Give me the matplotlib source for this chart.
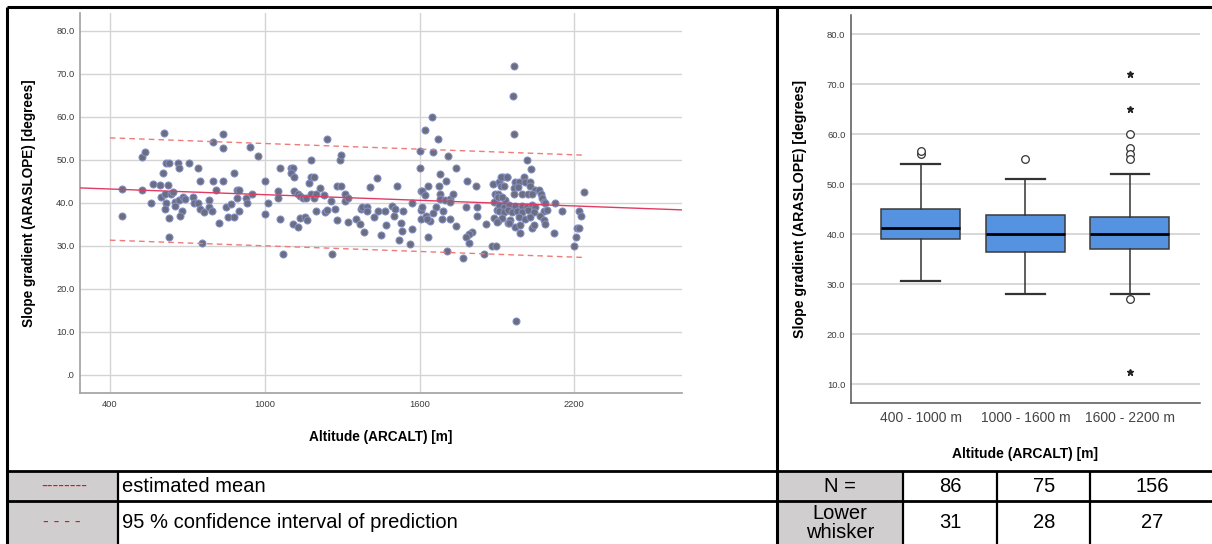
import matplotlib
matplotlib.use('Agg')
import matplotlib.pyplot as plt
from matplotlib import font_manager as fm
from matplotlib.lines import Line2D
from matplotlib.patches import Rectangle
import numpy as np

plt.rcParams['font.family'] = ['Liberation Sans', 'DejaVu Sans']


def have_font(name):
    try:
        fm.findfont(fm.FontProperties(family=name), fallback_to_default=False)
        return True
    except ValueError:
        return False


TABLE_FONT = 'Liberation Sans Narrow' if have_font('Liberation Sans Narrow') else 'Liberation Sans'

# scatter data: altitude [m] and slope [deg]
alt_m = [
    448, 448, 523, 536, 523, 560, 565, 595, 609, 604, 616, 629, 625, 599, 612, 635, 645, 616, 612, 630,
    630, 651, 651, 668, 682, 691, 678, 672, 664, 668, 705, 740, 721, 727, 740, 749, 749, 766, 785, 785,
    797, 801, 840, 840, 801, 840, 810, 824, 850, 869, 859, 881, 881, 891, 902, 891, 902, 926, 930, 952,
    943, 973, 756,
    1000, 1000, 1012, 1061, 1050, 1050, 1061, 1071, 1101, 1110, 1101, 1115, 1115, 1129, 1138, 1149, 1160, 1110,
    1129, 1136, 1155, 1164, 1171, 1180, 1180, 1190, 1181, 1190, 1200, 1215, 1200, 1229, 1241, 1233, 1242, 1256,
    1260, 1274, 1280, 1280, 1296, 1291, 1296, 1310, 1310, 1323, 1322, 1352, 1369, 1372, 1377, 1397, 1397, 1386,
    1406, 1424, 1436, 1440, 1450, 1465, 1468, 1495, 1504, 1512, 1501, 1534, 1527, 1532, 1521, 1561, 1570, 1570,
    1600, 1600, 1605, 1605, 1605, 1650, 1622, 1671, 1652, 1709, 1741, 1680, 1631, 1610, 1622, 1675, 1702, 1680,
    1680, 1699, 1719, 1728, 1716, 1783, 1820, 1609, 1663, 1691, 1652, 1626, 1641, 1629, 1687, 1716, 1781, 1821,
    1821, 1743, 1631, 1802, 1790, 1781, 1793, 1706, 1768, 1851, 1882, 1856, 1883, 1909, 1922, 1938, 1914, 1929,
    1891, 1900, 1932, 1890, 1900, 1926, 1945, 1887, 1904, 1943, 1965, 1962, 1967, 1972, 2017, 2032, 2238, 1917,
    1939, 1971, 1984, 2003, 2010, 2029, 1967, 1980, 2029, 2049, 2064, 1904, 1904, 1919, 1964, 1996, 2022, 2037,
    2070, 2074, 2081, 2085, 2124, 1906, 1926, 1945, 1971, 1997, 2016, 2035, 2049, 1906, 1926, 1941, 1958, 1978,
    1997, 2022, 2045, 2081, 2094, 2151, 2217, 2226, 1919, 1952, 1984, 2010, 2029, 2068, 2081, 1900, 1945, 1971,
    1990, 2035, 2045, 2087, 1990, 2120, 2210, 2216, 2208, 2199, 1896,
]
slope_deg = [
    43.2, 36.9, 50.7, 51.7, 42.9, 40.0, 44.3, 44.1, 56.3, 46.9, 49.1, 49.1, 44.2, 41.2, 42.0, 42.0, 42.4, 40.0, 38.6, 36.3,
    32.1, 40.2, 39.3, 40.6, 41.2, 40.8, 38.1, 36.9, 49.1, 48.0, 49.3, 48.1, 41.2, 40.0, 40.0, 45.0, 38.5, 37.7, 40.6, 38.9,
    38.1, 54.0, 55.9, 52.8, 45.0, 45.0, 42.9, 35.3, 38.9, 39.7, 36.6, 36.6, 46.9, 42.9, 42.9, 41.0, 38.0, 41.0, 40.0, 42.0,
    53.0, 50.9, 30.7,
    45.0, 37.3, 40.0, 48.0, 42.7, 41.0, 36.1, 28.0, 48.0, 48.0, 46.9, 45.9, 42.7, 42.1, 41.5, 41.0, 41.0, 34.9,
    34.4, 36.3, 36.6, 35.9, 44.5, 49.9, 46.0, 46.0, 42.0, 41.0, 42.0, 43.3, 38.0, 41.7, 54.9, 37.7, 38.3, 40.3,
    28.0, 38.4, 35.9, 43.9, 43.9, 49.9, 51.0, 42.0, 40.4, 41.0, 35.5, 36.2, 34.9, 38.4, 39.0, 39.0, 38.0, 33.1,
    43.6, 36.7, 45.7, 38.0, 32.4, 38.0, 34.8, 39.3, 38.4, 43.9, 36.9, 38.0, 35.2, 33.4, 31.2, 30.3, 33.8, 40.0,
    52.0, 48.0, 42.7, 38.3, 36.2, 60.0, 56.9, 54.9, 51.8, 50.9, 48.0, 46.6, 43.9, 42.7, 41.7, 43.9, 45.0, 41.9,
    40.8, 40.6, 40.8, 41.9, 40.2, 45.1, 43.9, 38.9, 38.9, 38.0, 37.5, 36.9, 35.8, 36.2, 36.2, 36.2, 39.0, 39.0,
    36.9, 34.6, 32.1, 33.2, 32.7, 32.1, 30.5, 28.7, 27.2, 28.1, 30.0, 35.0, 44.3, 44.8, 45.9, 45.9, 43.9, 43.9,
    42.1, 41.0, 40.6, 40.2, 38.3, 38.3, 38.3, 36.3, 35.8, 35.3, 71.8, 64.8, 55.9, 12.4, 49.9, 47.9, 42.5, 46.0,
    46.0, 44.8, 44.8, 46.0, 44.8, 44.8, 43.3, 43.7, 43.9, 42.9, 42.9, 42.1, 41.4, 41.4, 42.1, 42.0, 42.0, 42.0,
    42.0, 41.0, 40.2, 39.8, 40.0, 39.4, 39.0, 39.5, 39.1, 39.3, 38.9, 39.4, 39.0, 38.1, 37.8, 38.2, 37.9, 38.1,
    37.8, 38.2, 37.9, 38.0, 38.2, 38.0, 38.0, 36.9, 36.3, 35.9, 36.7, 36.2, 36.7, 36.9, 35.9, 35.5, 35.2, 34.4,
    34.8, 34.0, 34.8, 34.9, 33.0, 33.0, 34.0, 34.0, 32.0, 30.0, 29.9,
]

# regression line and 95 % prediction band
fit_intercept = 44.03
fit_slope = -0.00219
pi_half_width = 11.9
pi_alt_range = [400, 2230]

# box plot summary
groups = ['400 - 1000 m', '1000 - 1600 m', '1600 - 2200 m']
q1 = [39.1, 36.5, 37.1]
medians = [41.3, 40.0, 40.0]
q3 = [45.0, 43.8, 43.5]
whis_lo = [30.7, 28.0, 28.1]
whis_hi = [54.1, 51.0, 52.1]
outliers = [[56.0, 56.6], [55.0], [60.0, 57.2, 56.1, 55.0, 27.1]]
extremes = [[], [], [72.1, 65.1, 12.5]]

# table below the charts
n_counts = [86, 75, 156]
lower_whisker = [31, 28, 27]

TICK_COLOR = '#3c3c3c'
GRID_COLOR = '#d4d4d4'
LINE_RED = '#e23b63'
BAND_RED = '#f07a7a'
BOX_BLUE = '#5592e0'

fig = plt.figure(figsize=(12.12, 5.44), dpi=100)

# ---- scatter with fit ----
ax1 = fig.add_axes([80 / 1212, 1 - 393 / 544, 602 / 1212, 380 / 544])
ax1.scatter(alt_m, slope_deg, s=26, c='#6b6e80', edgecolors='#8591c8', linewidths=0.7, zorder=3)
xl = np.array([284.0, 2617.0])
ax1.plot(xl, fit_intercept + fit_slope * xl, color=LINE_RED, lw=1.0, zorder=4)
xb = np.array(pi_alt_range, dtype=float)
for sgn in (1, -1):
    ax1.plot(xb, fit_intercept + fit_slope * xb + sgn * pi_half_width,
             color=BAND_RED, lw=1.0, dashes=(4, 3), zorder=4)
ax1.set_xlim(xl)
ax1.set_ylim(-4.3, 84.1)
ax1.set_xticks([400, 1000, 1600, 2200])
ax1.set_yticks(np.arange(0, 81, 10))
ax1.set_yticklabels(['.0'] + ['%.1f' % v for v in np.arange(10, 81, 10)])
ax1.grid(True, color=GRID_COLOR, lw=1.0)
ax1.set_axisbelow(True)
for s in ('top', 'right'):
    ax1.spines[s].set_visible(False)
for s in ('left', 'bottom'):
    ax1.spines[s].set_color('#a0a0a0')
    ax1.spines[s].set_linewidth(1.2)
ax1.tick_params(length=0, labelsize=6.7, colors=TICK_COLOR)
ax1.tick_params(axis='x', pad=5)
ax1.tick_params(axis='y', pad=4)
ax1.set_xlabel('Altitude (ARCALT) [m]', fontsize=9.8, fontweight='bold')
ax1.set_ylabel('Slope gradient (ARASLOPE) [degrees]', fontsize=9.8, fontweight='bold')
ax1.xaxis.set_label_coords(0.5, -0.097)
ax1.yaxis.set_label_coords(-0.073, 0.5)

# ---- box plot ----
ax2 = fig.add_axes([851 / 1212, 1 - 403 / 544, 349 / 1212, 388 / 544])
stats = []
for i, g in enumerate(groups):
    stats.append(dict(label=g, q1=q1[i], med=medians[i], q3=q3[i],
                      whislo=whis_lo[i], whishi=whis_hi[i], fliers=outliers[i]))
pos = np.arange(1, len(groups) + 1)
ax2.bxp(stats, positions=pos, widths=0.756, capwidths=0.37, patch_artist=True,
        boxprops=dict(facecolor=BOX_BLUE, edgecolor='#3a3a3a', linewidth=1.1),
        medianprops=dict(color='black', linewidth=2.0),
        whiskerprops=dict(color='#333333', linewidth=1.1),
        capprops=dict(color='#333333', linewidth=1.6),
        flierprops=dict(marker='o', markerfacecolor='white', markeredgecolor='#333333',
                        markersize=5.5, markeredgewidth=0.9, linestyle='none'),
        zorder=3)
for p, ext in zip(pos, extremes):
    if ext:
        ax2.plot([p] * len(ext), ext, linestyle='none', marker='*', color='#222222',
                 markersize=5, zorder=4)
ax2.set_xlim(0.333, 3.67)
ax2.set_ylim(6.2, 83.8)
ax2.set_yticks(np.arange(10, 81, 10))
ax2.set_yticklabels(['%.1f' % v for v in np.arange(10, 81, 10)])
ax2.set_xticks(pos)
ax2.set_xticklabels(groups)
ax2.yaxis.grid(True, color=GRID_COLOR, lw=1.3)
ax2.set_axisbelow(True)
for s in ('top', 'right'):
    ax2.spines[s].set_visible(False)
for s in ('left', 'bottom'):
    ax2.spines[s].set_color('#555555')
    ax2.spines[s].set_linewidth(1.1)
ax2.tick_params(length=0, colors=TICK_COLOR)
ax2.tick_params(axis='y', labelsize=6.8, pad=4)
ax2.tick_params(axis='x', labelsize=10, pad=6, labelcolor='#444444')
ax2.set_xlabel('Altitude (ARCALT) [m]', fontsize=10, fontweight='bold')
ax2.set_ylabel('Slope gradient (ARASLOPE) [degrees]', fontsize=10.2, fontweight='bold')
ax2.xaxis.set_label_coords(0.5, -0.113)
ax2.yaxis.set_label_coords(-0.126, 0.5)

# ---- frame and table (pixel coordinates) ----
fr = fig.add_axes([0, 0, 1, 1], zorder=5)
fr.set_xlim(0, 1212)
fr.set_ylim(544, 0)
fr.axis('off')

TOP, MID = 471, 501
fr.add_patch(Rectangle((8, TOP), 110, 544 - TOP, facecolor='#d0cece', edgecolor='none'))
fr.add_patch(Rectangle((777, TOP), 126, 544 - TOP, facecolor='#d0cece', edgecolor='none'))


def hline(y, x0, x1, lw=2.0):
    fr.add_line(Line2D([x0, x1], [y, y], color='black', lw=lw, solid_capstyle='butt'))


def vline(x, y0, y1, lw=2.0):
    fr.add_line(Line2D([x, x], [y0, y1], color='black', lw=lw, solid_capstyle='butt'))


hline(7, 7, 1212, 2.2)
hline(TOP, 7, 1212, 2.0)
hline(MID, 7, 1212, 2.0)
vline(7, 7, 544, 2.2)
vline(776.5, 7, 544, 2.2)
vline(118, TOP, 544, 1.6)
for x in (903, 997, 1090):
    vline(x, TOP, 544, 1.6)

tf = dict(family=[TABLE_FONT, 'DejaVu Sans'], fontsize=14.5, color='black')
r1 = (TOP + MID) / 2 + 1
r2 = 522
fr.text(64, r1 - 1, '--------', ha='center', va='center', color='#ff0000',
        family=['Liberation Sans', 'DejaVu Sans'], fontsize=12.5)
fr.text(62, r2, '- - - -', ha='center', va='center', color='#ff0000',
        family=['Liberation Sans', 'DejaVu Sans'], fontsize=12.5)
fr.text(122, r1, 'estimated mean', ha='left', va='center', **tf)
fr.text(122, r2, '95 % confidence interval of prediction', ha='left', va='center', **tf)
fr.text(840, r1, 'N =', ha='center', va='center', **tf)
fr.text(840, r2 + 1, 'Lower\nwhisker', ha='center', va='center', linespacing=1.05, **tf)
col_x = [950, 1044, 1152]
for x, n, lw_ in zip(col_x, n_counts, lower_whisker):
    fr.text(x, r1, str(n), ha='center', va='center', **tf)
    fr.text(x, r2, str(lw_), ha='center', va='center', **tf)

fig.savefig('out.png', dpi=100)
